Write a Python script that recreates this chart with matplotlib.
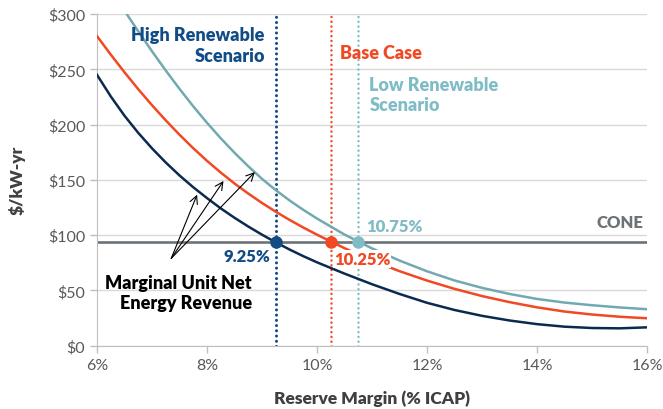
import matplotlib.pyplot as plt

plt.rcParams['font.family'] = ['Lato', 'DejaVu Sans']

# reserve margin (%) and marginal unit net energy revenue ($/kW-yr)
margin = [6.0, 6.25, 6.5, 6.75, 7.0, 7.25, 7.5, 7.75, 8.0, 8.25, 8.5,
          8.75, 9.0, 9.25, 9.5, 9.75, 10.0, 10.5, 11.0, 11.5, 12.0,
          12.5, 13.0, 13.5, 14.0, 14.5, 15.0, 15.5, 16.0]
high_renew = [245, 225.5, 208, 192.5, 178.5, 165.7, 154, 143.3, 133.5,
              124.2, 115.7, 107.8, 100.4, 93.5, 87.0, 81.0, 75.4, 65.2,
              55.6, 46.8, 38.8, 32.3, 27, 22.8, 19.5, 17.2, 16, 15.7, 16.6]
base_case = [280, 263.3, 247.3, 232, 217.5, 203.8, 190.8, 178.6, 167.2,
             156.6, 146.7, 137.6, 129.1, 121.2, 113.8, 106.9, 100.4, 88.2,
             77.1, 67.4, 58.9, 51.4, 44.9, 39.4, 34.7, 30.9, 28.2, 26.2,
             24.8]
low_renew = [344.3, 323.3, 303, 284.3, 266.3, 248.9, 232.3, 216.5, 201.6,
             187.6, 174.5, 162.3, 150.9, 140.7, 131.4, 122.9, 115.0, 100.5,
             88, 77, 67.3, 59, 52.3, 46.8, 42.3, 39.0, 36.6, 34.6, 33]

cone = 93.5
cross_x = [9.25, 10.25, 10.75]
cross_labels = ['9.25%', '10.25%', '10.75%']

navy = '#0b2a4f'
navy_lt = '#124c85'
orange = '#f04923'
teal = '#72a9b1'
teal_lt = '#80bcc6'
grey = '#6e7378'
bold = 'heavy'

fig = plt.figure(figsize=(6.63, 4.10), dpi=100)
ax = fig.add_axes([0.1463, 0.1544, 0.8296, 0.809])

ax.plot(margin, high_renew, color=navy, lw=1.8, zorder=3)
ax.plot(margin, base_case, color=orange, lw=1.8, zorder=3)
ax.plot(margin, low_renew, color=teal, lw=1.8, zorder=3)

ax.axhline(cone, color=grey, lw=1.9, zorder=2)

ax.axvline(cross_x[0], color=navy_lt, lw=2.2, ls=(0, (0.01, 1.7)),
           dash_capstyle='round', zorder=2)
ax.axvline(cross_x[1], color=orange, lw=1.8, ls=(0, (0.01, 1.9)),
           dash_capstyle='round', zorder=2)
ax.axvline(cross_x[2], color=teal_lt, lw=1.8, ls=(0, (0.01, 1.9)),
           dash_capstyle='round', zorder=2)

for xv, c in zip(cross_x, [navy_lt, orange, teal_lt]):
    ax.plot(xv, cone, 'o', color=c, ms=8, zorder=5)

ax.text(9.15, 81.4, cross_labels[0], color=navy_lt, fontsize=12,
        fontweight=bold, ha='right', va='center', zorder=6)
ax.text(10.31, 78.4, cross_labels[1], color=orange, fontsize=12,
        fontweight=bold, ha='left', va='center', zorder=6,
        bbox=dict(facecolor='white', edgecolor='none', pad=0.5))
ax.text(10.89, 108.5, cross_labels[2], color=teal_lt, fontsize=12,
        fontweight=bold, ha='left', va='center', zorder=6)
ax.text(15.93, 112, 'CONE', color=grey, fontsize=12, fontweight=bold,
        ha='right', va='center')

ax.text(9.05, 272, 'High Renewable\nScenario', color=navy_lt, fontsize=13,
        fontweight=bold, ha='right', va='center', multialignment='right',
        linespacing=1.25)
ax.text(10.42, 265.6, 'Base Case', color=orange, fontsize=13,
        fontweight=bold, ha='left', va='center')
ax.text(10.95, 227, 'Low Renewable\nScenario', color=teal_lt, fontsize=13,
        fontweight=bold, ha='left', va='center', linespacing=1.25)

ax.text(8.82, 48, 'Marginal Unit Net\nEnergy Revenue', color='black',
        fontsize=13, fontweight=bold, ha='right', va='center',
        multialignment='right', linespacing=1.25)
for tip in [(7.82, 136.6), (8.30, 149), (8.87, 157)]:
    ax.annotate('', xy=tip, xytext=(7.35, 79),
                arrowprops=dict(arrowstyle='->', color='black', lw=0.8,
                                mutation_scale=14, shrinkA=0, shrinkB=0))

ax.set_xlim(6, 16)
ax.set_ylim(0, 300)
ax.set_xticks([6, 8, 10, 12, 14, 16])
ax.set_xticklabels(['6%', '8%', '10%', '12%', '14%', '16%'])
ax.set_yticks(range(0, 301, 50))
ax.set_yticklabels(['$0', '$50', '$100', '$150', '$200', '$250', '$300'])
ax.tick_params(colors='#bfbfbf', labelcolor='#595959', labelsize=11.5,
               length=5, width=1)
ax.grid(axis='y', color='#d9d9d9', lw=1)
ax.set_axisbelow(True)
for s in ['top', 'right']:
    ax.spines[s].set_visible(False)
for s in ['left', 'bottom']:
    ax.spines[s].set_color('#bfbfbf')

ax.set_xlabel('Reserve Margin (% ICAP)', fontsize=12.5, fontweight=bold,
              color='#404040', labelpad=13)
ax.set_ylabel('$/kW-yr', fontsize=12.5, fontweight=bold, color='#404040',
              labelpad=16)

plt.savefig('out.png', dpi=100)
